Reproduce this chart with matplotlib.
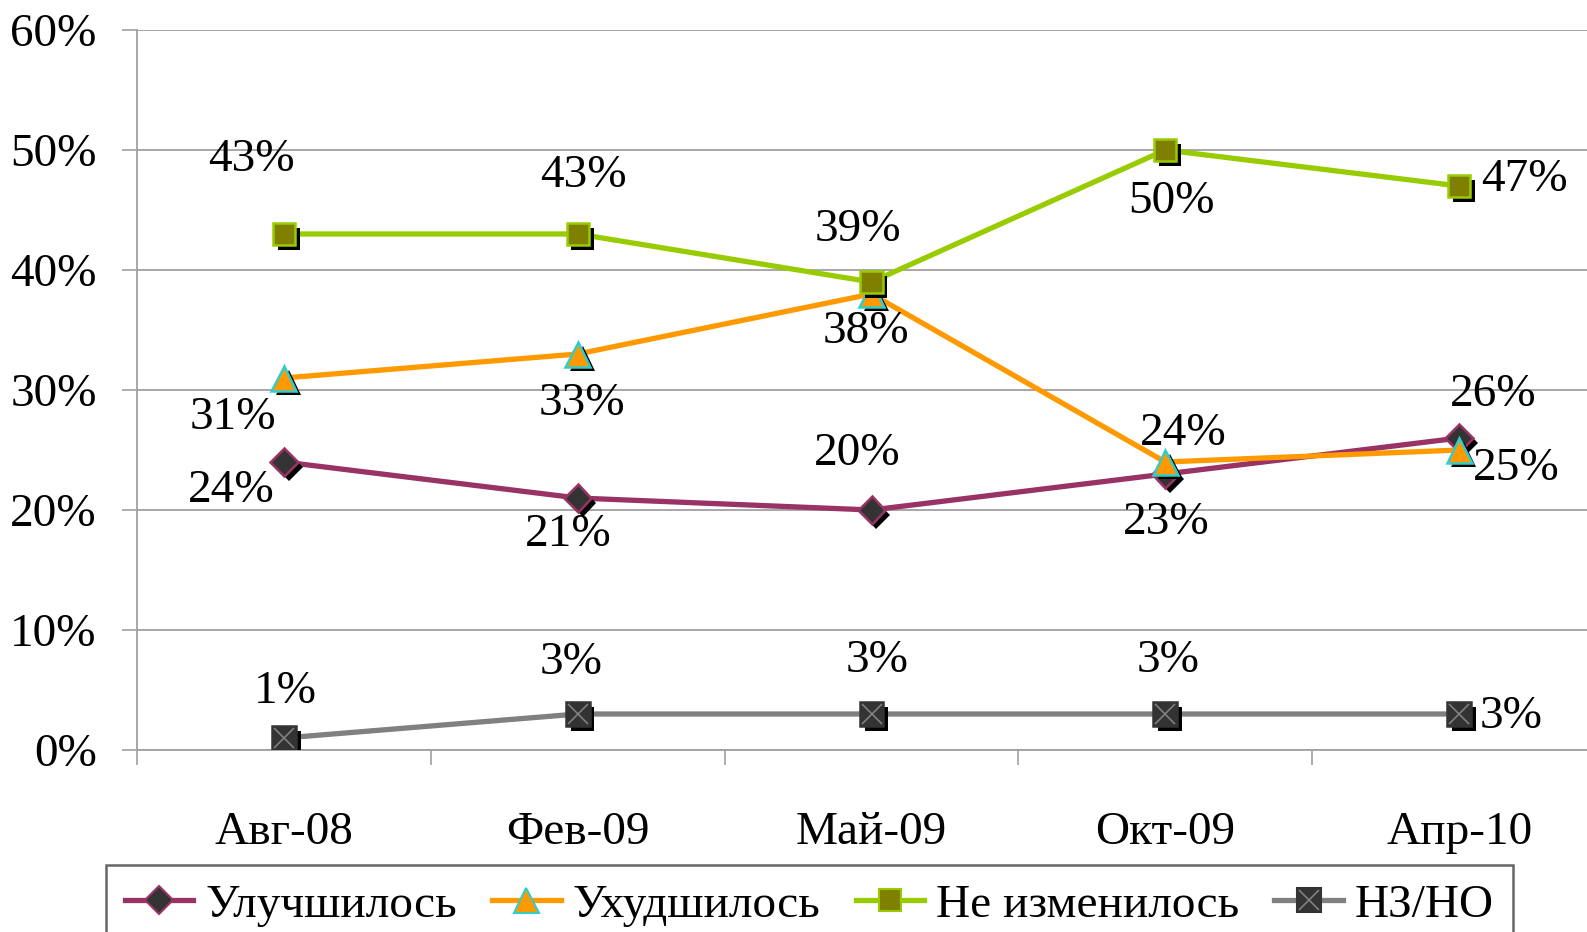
import matplotlib
matplotlib.use("Agg")
import matplotlib.pyplot as plt
import matplotlib.patheffects as pe
from matplotlib.lines import Line2D
from matplotlib.legend_handler import HandlerTuple
import numpy as np

plt.rcParams['font.family'] = ['Liberation Serif', 'DejaVu Serif']

# data
months = ['Авг-08', 'Фев-09', 'Май-09', 'Окт-09', 'Апр-10']
better = [24, 21, 20, 23, 26]
worse = [31, 33, 38, 24, 25]
same = [43, 43, 39, 50, 47]
nodata = [1, 3, 3, 3, 3]
names = ['Улучшилось', 'Ухудшилось', 'Не изменилось', 'НЗ/НО']

# label offsets in pixels (dx, dy)
offs = [
    [(-53, -29), (-9, -37), (-14, 56), (1, -49), (34, 43)],
    [(-51, -40), (4, -50), (-6, -38), (18, 28), (57, -19)],
    [(-32, 74), (6, 58), (-14, 52), (6, -52), (65, 6)],
    [(1, 46), (-7, 51), (6, 53), (3, 53), (52, -3)],
]

styles = [
    dict(color='#993366', marker='D', mfc='#333333', mec='#993366', ms=14),
    dict(color='#FF9900', marker='^', mfc='#FF9900', mec='#33CCCC', ms=18),
    dict(color='#99CC00', marker='s', mfc='#808000', mec='#99CC00', ms=16),
    dict(color='#808080', marker='s', mfc='#333333', mec='#333333', ms=17),
]
FS = 34

fig = plt.figure(figsize=(15.87, 9.32), dpi=100)
ax = fig.add_axes([137 / 1587, 1 - 750 / 932, 1469 / 1587, 720 / 932])

x = np.arange(len(months))
series = [better, worse, same, nodata]
shadow = [pe.SimplePatchShadow(offset=(3.5, -3.5), shadow_rgbFace='black', alpha=1.0), pe.Normal()]

handles = []
for i, (vals, st) in enumerate(zip(series, styles)):
    z = 3 + i
    ax.plot(x, vals, color=st['color'], lw=3.8, zorder=z, solid_capstyle='butt')
    ax.plot(x, vals, ls='none', marker=st['marker'], ms=st['ms'], mfc=st['mfc'],
            mec=st['mec'], mew=1.8, zorder=z + 0.5, path_effects=shadow)
    if i == 3:
        ax.plot(x, vals, ls='none', marker='x', ms=st['ms'] - 3, mec='#808080',
                mew=1.2, zorder=z + 0.6)
    for xi, v, (dx, dy) in zip(x, vals, offs[i]):
        ax.annotate(f'{v}%', (xi, v), xytext=(dx, dy), textcoords='offset pixels',
                    ha='center', va='center', fontsize=FS, zorder=10)
    h = Line2D([], [], color=st['color'], lw=3.8, marker=st['marker'],
               ms=st['ms'], mfc=st['mfc'], mec=st['mec'], mew=1.5)
    if i == 3:
        h = (h, Line2D([], [], ls='none', marker='x', ms=st['ms'] - 3, mec='#808080', mew=1.2))
    handles.append(h)

ax.set_xlim(-0.5, 4.5)
ax.set_ylim(0, 60)
ax.set_yticks(range(0, 61, 10))
ax.set_yticklabels([f'{v}%' for v in range(0, 61, 10)], fontsize=FS)
ax.set_xticks(x)
ax.set_xticklabels(months, fontsize=FS)
ax.set_xticks(np.arange(-0.5, 5, 1), minor=True)
ax.tick_params(axis='x', which='major', length=0, pad=44)
ax.tick_params(axis='x', which='minor', length=11, width=1.2, color='#A0A0A0', direction='out')
ax.tick_params(axis='y', length=11, width=1.2, color='#A0A0A0', pad=18)
ax.grid(axis='y', color='#A0A0A0', lw=1.3)
ax.set_axisbelow(True)
for s in ['top', 'right']:
    ax.spines[s].set_visible(False)
for s in ['left', 'bottom']:
    ax.spines[s].set_color('#A0A0A0')
    ax.spines[s].set_linewidth(1.3)

leg = fig.legend(handles, names, loc='upper left', bbox_to_anchor=(106 / 1587, 1 - 865 / 932),
                 ncol=4, fontsize=FS, frameon=True, fancybox=False, borderaxespad=0,
                 handlelength=1.45, handletextpad=0.25, columnspacing=0.75, borderpad=0.4,
                 handler_map={tuple: HandlerTuple(ndivide=1)})
leg.get_frame().set_edgecolor('#404040')
leg.get_frame().set_linewidth(1.8)

fig.savefig('out.png', dpi=100)
